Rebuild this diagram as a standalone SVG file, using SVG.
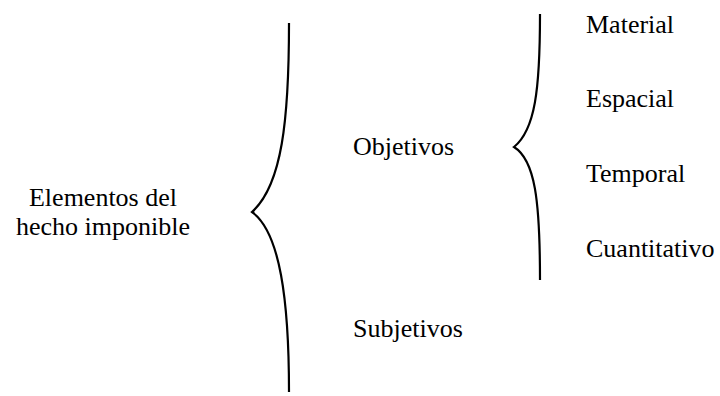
<svg xmlns="http://www.w3.org/2000/svg" width="720" height="396" viewBox="0 0 720 396">
<style>
.t{font-family:'Liberation Serif','Times New Roman',Times,serif;font-size:26px;fill:#000}
.br{fill:none;stroke:#000;stroke-width:2.2}
</style>
<rect width="720" height="396" fill="#fff"/>
<g id="connectors">
<path class="br" d="M289,23 C289,120 282,185 252,212 C280,232 289,300 289,392"/>
<path class="br" d="M540,14 C540,90 535,130 514,147 C535,160 540,200 540,280"/>
</g>
<g class="t" font-family="Liberation Serif, serif">
<g id="root"><text x="103" y="206" text-anchor="middle">Elementos del</text><text x="103" y="235" text-anchor="middle">hecho imponible</text></g>
<g id="objetivos"><text x="353" y="155">Objetivos</text></g>
<g id="subjetivos"><text x="353" y="337">Subjetivos</text></g>
<g id="material"><text x="586" y="33">Material</text></g>
<g id="espacial"><text x="586" y="107">Espacial</text></g>
<g id="temporal"><text x="586" y="182">Temporal</text></g>
<g id="cuantitativo"><text x="586" y="257">Cuantitativo</text></g>
</g>
</svg>
